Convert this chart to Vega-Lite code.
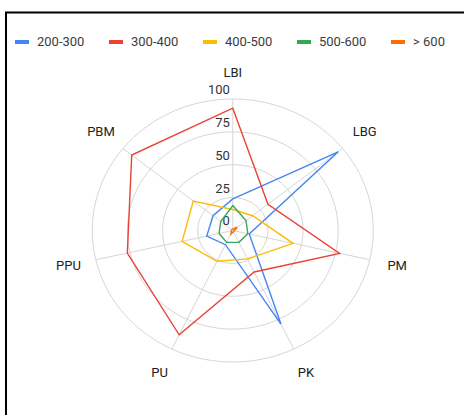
{
  "$schema": "https://vega.github.io/schema/vega-lite/v6.json",
  "width": 461,
  "height": 405.5,
  "autosize": {"type": "none"},
  "padding": {"left": 6, "top": 12.5, "right": -3, "bottom": -3},
  "background": "#ffffff",
  "config": {
    "font": "Roboto",
    "view": {"stroke": "#000000", "strokeWidth": 2},
    "legend": {
      "orient": "none",
      "legendX": 7,
      "legendY": 20.5,
      "direction": "horizontal",
      "columns": 5,
      "columnPadding": 16,
      "labelOffset": 6,
      "symbolSize": 196,
      "symbolStrokeWidth": 4,
      "symbolType": "stroke",
      "labelFontSize": 13,
      "labelFont": "Roboto",
      "labelColor": "#3c3c3c",
      "padding": 0,
      "title": null
    }
  },
  "datasets": {
    "series": [
      {"series": "200-300", "axis": "LBI", "value": 24},
      {"series": "200-300", "axis": "LBG", "value": 96},
      {"series": "200-300", "axis": "PM", "value": 12},
      {"series": "200-300", "axis": "PK", "value": 79},
      {"series": "200-300", "axis": "PU", "value": 12},
      {"series": "200-300", "axis": "PPU", "value": 19},
      {"series": "200-300", "axis": "PBM", "value": 18},
      {"series": "300-400", "axis": "LBI", "value": 93},
      {"series": "300-400", "axis": "LBG", "value": 32},
      {"series": "300-400", "axis": "PM", "value": 78},
      {"series": "300-400", "axis": "PK", "value": 35},
      {"series": "300-400", "axis": "PU", "value": 88},
      {"series": "300-400", "axis": "PPU", "value": 77},
      {"series": "300-400", "axis": "PBM", "value": 92},
      {"series": "400-500", "axis": "LBI", "value": 16},
      {"series": "400-500", "axis": "LBG", "value": 18},
      {"series": "400-500", "axis": "PM", "value": 44},
      {"series": "400-500", "axis": "PK", "value": 24},
      {"series": "400-500", "axis": "PU", "value": 26},
      {"series": "400-500", "axis": "PPU", "value": 37},
      {"series": "400-500", "axis": "PBM", "value": 36},
      {"series": "500-600", "axis": "LBI", "value": 19},
      {"series": "500-600", "axis": "LBG", "value": 12},
      {"series": "500-600", "axis": "PM", "value": 11},
      {"series": "500-600", "axis": "PK", "value": 10},
      {"series": "500-600", "axis": "PU", "value": 10},
      {"series": "500-600", "axis": "PPU", "value": 10},
      {"series": "500-600", "axis": "PBM", "value": 11},
      {"series": "> 600", "axis": "LBI", "value": 1},
      {"series": "> 600", "axis": "LBG", "value": 4},
      {"series": "> 600", "axis": "PM", "value": 1},
      {"series": "> 600", "axis": "PK", "value": 1},
      {"series": "> 600", "axis": "PU", "value": 3},
      {"series": "> 600", "axis": "PPU", "value": 1},
      {"series": "> 600", "axis": "PBM", "value": 1}
    ],
    "axes": [
      {"axis": "LBI", "i": 0},
      {"axis": "LBG", "i": 1},
      {"axis": "PM", "i": 2},
      {"axis": "PK", "i": 3},
      {"axis": "PU", "i": 4},
      {"axis": "PPU", "i": 5},
      {"axis": "PBM", "i": 6}
    ],
    "rings": [{"r": 25}, {"r": 50}, {"r": 75}, {"r": 100}],
    "ticks": [{"t": 0}, {"t": 25}, {"t": 50}, {"t": 75}, {"t": 100}]
  },
  "layer": [
    {
      "data": {"name": "rings"},
      "mark": {
        "type": "point",
        "shape": "M-1,0A1,0.936,0,1,1,1,0A1,0.936,0,1,1,-1,0Z",
        "filled": false,
        "stroke": "#d6d6d6",
        "strokeWidth": 1,
        "opacity": 1
      },
      "encoding": {
        "x": {"datum": 0, "type": "quantitative", "scale": {"domain": [-161.42, 166.69], "nice": false, "zero": false}, "axis": null},
        "y": {"datum": 0, "type": "quantitative", "scale": {"domain": [-142.59, 165.78], "nice": false, "zero": false}, "axis": null},
        "size": {"field": "r", "type": "quantitative", "scale": {"type": "pow", "exponent": 2, "domain": [0, 100], "range": [0, 78961]}, "legend": null}
      }
    },
    {
      "data": {"name": "axes"},
      "transform": [
        {"calculate": "100 * sin(datum.i * 2 * PI / 7)", "as": "sx"},
        {"calculate": "100 * cos(datum.i * 2 * PI / 7)", "as": "sy"}
      ],
      "mark": {"type": "rule", "stroke": "#d6d6d6", "strokeWidth": 1},
      "encoding": {
        "x": {"field": "sx", "type": "quantitative", "scale": {"domain": [-161.42, 166.69], "nice": false, "zero": false}, "axis": null},
        "y": {"field": "sy", "type": "quantitative", "scale": {"domain": [-142.59, 165.78], "nice": false, "zero": false}, "axis": null},
        "x2": {"datum": 0},
        "y2": {"datum": 0}
      }
    },
    {
      "data": {"name": "ticks"},
      "mark": {"type": "text", "align": "right", "baseline": "alphabetic", "dx": -3, "dy": -5, "fontSize": 13, "font": "Roboto", "color": "#333333"},
      "encoding": {
        "x": {"datum": 0, "type": "quantitative", "scale": {"domain": [-161.42, 166.69], "nice": false, "zero": false}, "axis": null},
        "y": {"field": "t", "type": "quantitative", "scale": {"domain": [-142.59, 165.78], "nice": false, "zero": false}, "axis": null},
        "text": {"field": "t", "type": "quantitative"}
      }
    },
    {
      "data": {"name": "series"},
      "transform": [
        {"lookup": "axis", "from": {"data": {"name": "axes"}, "key": "axis", "fields": ["i"]}},
        {"calculate": "datum.value * sin(datum.i * 2 * PI / 7)", "as": "px"},
        {"calculate": "datum.value * cos(datum.i * 2 * PI / 7)", "as": "py"}
      ],
      "mark": {"type": "line", "interpolate": "linear-closed", "strokeWidth": 1.4},
      "encoding": {
        "x": {"field": "px", "type": "quantitative", "scale": {"domain": [-161.42, 166.69], "nice": false, "zero": false}, "axis": null},
        "y": {"field": "py", "type": "quantitative", "scale": {"domain": [-142.59, 165.78], "nice": false, "zero": false}, "axis": null},
        "order": {"field": "i", "type": "quantitative"},
        "color": {
          "field": "series",
          "type": "nominal",
          "scale": {
            "domain": ["200-300", "300-400", "400-500", "500-600", "> 600"],
            "range": ["#4285F4", "#EA4335", "#FBBC04", "#34A853", "#FF6D01"]
          },
          "legend": {"title": null}
        }
      }
    },
    {
      "data": {"name": "axes"},
      "transform": [
        {"calculate": "120 * sin(datum.i * 2 * PI / 7)", "as": "lx"},
        {"calculate": "120 * cos(datum.i * 2 * PI / 7)", "as": "ly"}
      ],
      "mark": {"type": "text", "align": "center", "baseline": "middle", "fontSize": 13, "font": "Roboto", "color": "#222222"},
      "encoding": {
        "x": {"field": "lx", "type": "quantitative", "scale": {"domain": [-161.42, 166.69], "nice": false, "zero": false}, "axis": null},
        "y": {"field": "ly", "type": "quantitative", "scale": {"domain": [-142.59, 165.78], "nice": false, "zero": false}, "axis": null},
        "text": {"field": "axis", "type": "nominal"}
      }
    }
  ]
}
